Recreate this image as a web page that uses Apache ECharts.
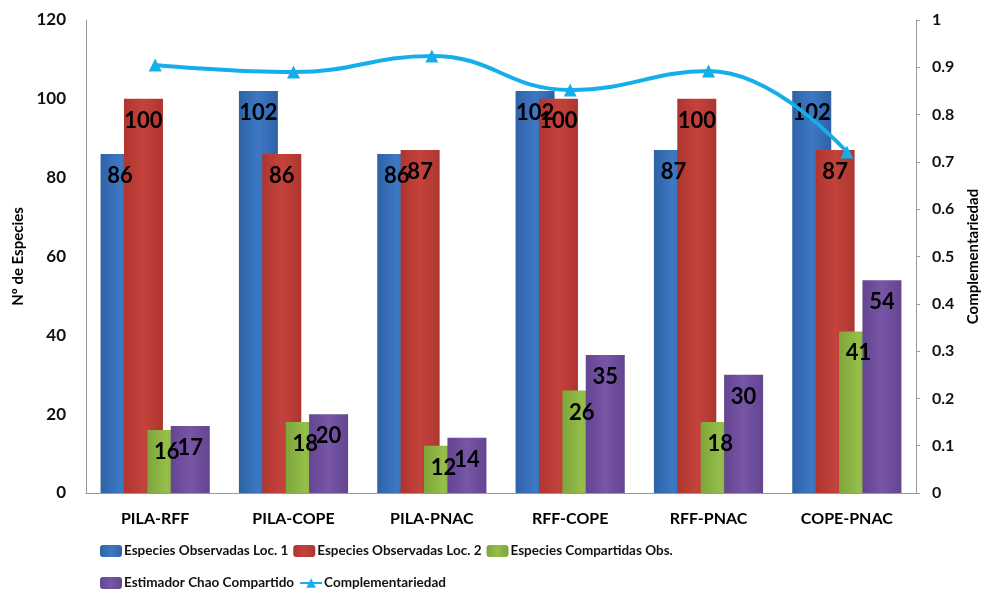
<!DOCTYPE html>
<html><head><meta charset="utf-8">
<script src="https://cdn.jsdelivr.net/npm/echarts@6/dist/echarts.min.js"></script>
<style>html,body{margin:0;padding:0;background:#fff}#c{width:982px;height:593px}</style>
</head><body><div id="c"></div>
<script>
const categories = ['PILA-RFF','PILA-COPE','PILA-PNAC','RFF-COPE','RFF-PNAC','COPE-PNAC'];
const obsLoc1 = [86,102,86,102,87,102];
const obsLoc2 = [100,86,87,100,100,87];
const compartidasObs = [16,18,12,26,18,41];
const chaoCompartido = [17,20,14,35,30,54];
const complementariedad = [0.905,0.89,0.924,0.852,0.892,0.721];
const leftTicks = [0,20,40,60,80,100,120];
const rightTicks = [0,0.1,0.2,0.3,0.4,0.5,0.6,0.7,0.8,0.9,1];
const seriesNames = ['Especies Observadas Loc. 1','Especies Observadas Loc. 2','Especies Compartidas Obs.','Estimador Chao Compartido','Complementariedad'];

const F = 'Lato, sans-serif';
const lbl = {show:true, position:'insideTop', distance:11, color:'#000', fontSize:22, fontWeight:'bold', fontFamily:F};
function bar(name, data, c1, c2){
  return {name, type:'bar', data, barWidth:39, barGap:'-40%', label:lbl,
    itemStyle:{color:new echarts.graphic.LinearGradient(0,0,1,0,[{offset:0,color:c1},{offset:0.5,color:c2},{offset:1,color:c1}])}};
}
const legendBase = {itemWidth:22, itemHeight:12, itemGap:5, padding:0,
  textStyle:{fontFamily:F, fontSize:13.5, fontWeight:'bold', color:'#111', padding:[0,0,0,-3]}};
const chart = echarts.init(document.getElementById('c'));
chart.setOption({
  animation:false,
  grid:{left:86,right:66,top:20,bottom:100, containLabel:false, outerBoundsMode:'none'},
  legend:[
    Object.assign({left:100, top:544, data:seriesNames.slice(0,3)}, legendBase),
    Object.assign({left:100, top:576, data:seriesNames.slice(3)}, legendBase)
  ],
  xAxis:{type:'category', data:categories,
    axisLine:{lineStyle:{color:'#999'}}, axisTick:{show:false},
    axisLabel:{fontFamily:F, fontWeight:'bold', fontSize:16, color:'#000', margin:18}},
  yAxis:[
    {type:'value', min:0, max:120, interval:20, name:'Nº de Especies', nameLocation:'middle', nameGap:58, nameRotate:90,
      nameTextStyle:{fontFamily:F, fontWeight:'bold', fontSize:15, color:'#000'},
      axisLine:{show:true, lineStyle:{color:'#999'}}, axisTick:{show:false}, splitLine:{show:false},
      axisLabel:{fontFamily:F, fontWeight:'bold', fontSize:17, color:'#111', margin:20,
        formatter:v=>leftTicks.includes(v)?String(v):''}},
    {type:'value', min:0, max:1, interval:0.1, name:'Complementariedad', nameLocation:'middle', nameGap:48, nameRotate:90,
      nameTextStyle:{fontFamily:F, fontWeight:'bold', fontSize:15, color:'#000'},
      axisLine:{show:true, lineStyle:{color:'#999'}}, axisTick:{show:true, length:4, lineStyle:{color:'#999'}}, splitLine:{show:false},
      axisLabel:{fontFamily:F, fontWeight:'bold', fontSize:16, color:'#111', margin:16,
        formatter:v=>{const r=Math.round(v*10)/10; return rightTicks.includes(r)?String(r):'';}}}
  ],
  series:[
    bar(seriesNames[0], obsLoc1, '#2F62A6', '#3D78C4'),
    bar(seriesNames[1], obsLoc2, '#AE3530', '#C4433C'),
    bar(seriesNames[2], compartidasObs, '#7EA53A', '#95BE4A'),
    bar(seriesNames[3], chaoCompartido, '#644590', '#7756A6'),
    {name:seriesNames[4], type:'line', yAxisIndex:1, data:complementariedad, smooth:0.45,
      symbol:'triangle', symbolSize:13, lineStyle:{color:'#16AEEA', width:4}, itemStyle:{color:'#16AEEA'}, z:5}
  ]
});
</script></body></html>
